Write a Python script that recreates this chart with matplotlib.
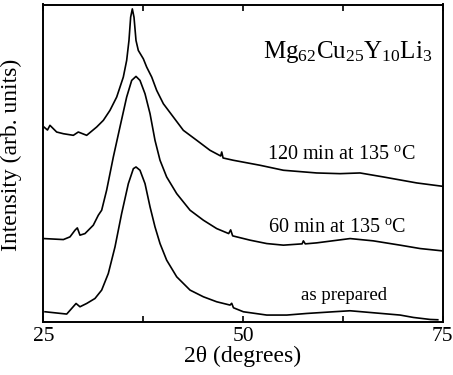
import matplotlib
matplotlib.use("Agg")
from matplotlib import pyplot as plt
from matplotlib.ticker import FixedLocator, NullLocator

plt.rcParams['font.family'] = ['Liberation Serif', 'DejaVu Serif']
plt.rcParams['mathtext.fontset'] = 'custom'
plt.rcParams['mathtext.rm'] = 'Liberation Serif'
plt.rcParams['mathtext.it'] = 'Liberation Serif:italic'

# 2theta (degrees) and intensity (arb. units)
x_120 = [25.06, 25.5, 25.81, 26.65, 27.49, 28.74, 29.36, 30.41, 31.66, 32.50, 33.33,
         34.17, 35.00, 35.42, 35.71, 35.92, 36.13, 36.34, 36.59, 36.88, 37.51,
         37.93, 38.56, 39.18, 40.02, 41.27, 42.52, 44.20, 45.86, 47.2, 47.33,
         47.5, 48.79, 52.13, 55.06, 59.23, 62.15, 64.66, 67.59, 71.77, 74.95]
y_120 = [195.0, 192.0, 196.7, 190.0, 188.3, 186.7, 190.0, 186.7, 195.0, 201.7, 211.7,
         225.0, 245.0, 261.7, 281.7, 305.0, 313.3, 305.0, 281.7, 271.7, 263.3,
         255.0, 245.0, 231.7, 218.3, 205.0, 191.7, 181.7, 171.7, 166.0, 170.0,
         164.0, 161.7, 156.7, 151.7, 149.0, 148.3, 149.0, 145.0, 139.0, 135.7]

x_60 = [25.06, 27.49, 28.32, 28.95, 29.24, 29.57, 30.20, 31.24, 31.87, 32.29, 32.91,
        33.75, 34.58, 35.42, 36.05, 36.59, 37.09, 37.72, 38.35, 38.97, 39.60,
        40.43, 41.69, 43.36, 45.03, 46.70, 48.2, 48.45, 48.7, 50.88, 52.97,
        55.06, 57.4, 57.56, 57.8, 59.23, 63.41, 66.33, 69.68, 72.19, 74.95]
y_60 = [83.3, 82.3, 85.0, 91.7, 94.0, 86.7, 88.3, 96.7, 106.7, 111.7, 131.7,
        165.0, 195.0, 225.0, 241.7, 245.7, 241.7, 228.3, 208.3, 181.7, 161.7,
        145.0, 128.3, 111.7, 101.7, 93.3, 88.3, 92.0, 86.0, 81.7, 78.3,
        76.7, 78.0, 81.0, 78.0, 79.0, 83.3, 81.0, 76.7, 73.3, 71.0]

x_prep = [25.19, 27.91, 28.53, 29.08, 29.57, 30.41, 31.45, 32.29, 33.12, 33.96, 34.79,
          35.63, 36.26, 36.59, 37.09, 37.72, 38.35, 38.97, 39.60, 40.43, 41.69,
          43.36, 45.03, 46.70, 48.37, 48.58, 48.8, 50.04, 52.97, 55.48, 57.98,
          61.32, 63.41, 66.33, 69.68, 71.35, 73.44, 74.4]
y_prep = [10.0, 7.7, 13.3, 18.3, 15.0, 18.3, 23.3, 31.7, 48.3, 75.0, 108.3,
          138.3, 153.3, 155.0, 151.7, 138.3, 115.0, 95.0, 78.3, 61.7, 45.0,
          31.7, 25.0, 20.0, 16.7, 18.5, 14.0, 10.0, 6.7, 6.7, 8.3,
          10.0, 11.0, 9.0, 6.7, 4.3, 2.3, 2.0]

xticks = [25, 37.5, 50, 62.5, 75]
xtick_labels = ['25', '', '50', '', '75']

fig = plt.figure(figsize=(4.53, 3.75), dpi=100)
ax = fig.add_axes([0.096, 0.142, 0.881, 0.846])

for xs, ys in [(x_120, y_120), (x_60, y_60), (x_prep, y_prep)]:
    ax.plot(xs, ys, color='black', lw=1.2)

ax.set_xlim(25, 75)
ax.set_ylim(0, 317.7)

ax.xaxis.set_major_locator(FixedLocator(xticks))
ax.set_xticklabels(xtick_labels)
ax.yaxis.set_major_locator(NullLocator())
ax.tick_params(axis='x', direction='in', top=True, length=4, width=1.2,
               labelsize=15.5, pad=4)
for s in ax.spines.values():
    s.set_linewidth(1.4)

ax.set_xlabel('2θ (degrees)', fontsize=17, labelpad=0)
ax.set_ylabel('Intensity (arb. units)', fontsize=17)
ax.yaxis.set_label_coords(-0.055, 0.525)

ax.text(63.1, 263.7, r'Mg$_{62}$Cu$_{25}$Y$_{10}$Li$_{3}$', fontsize=18,
        ha='center', va='baseline')
ax.text(62.3, 163.4, r'120 min at 135 $^{\mathrm{o}}$C', fontsize=14.5,
        ha='center', va='baseline')
ax.text(61.8, 90.0, r'60 min at 135 $^{\mathrm{o}}$C', fontsize=14.5,
        ha='center', va='baseline')
ax.text(62.6, 21.7, 'as prepared', fontsize=13.5, ha='center', va='baseline')

fig.savefig('out.png', dpi=100)
